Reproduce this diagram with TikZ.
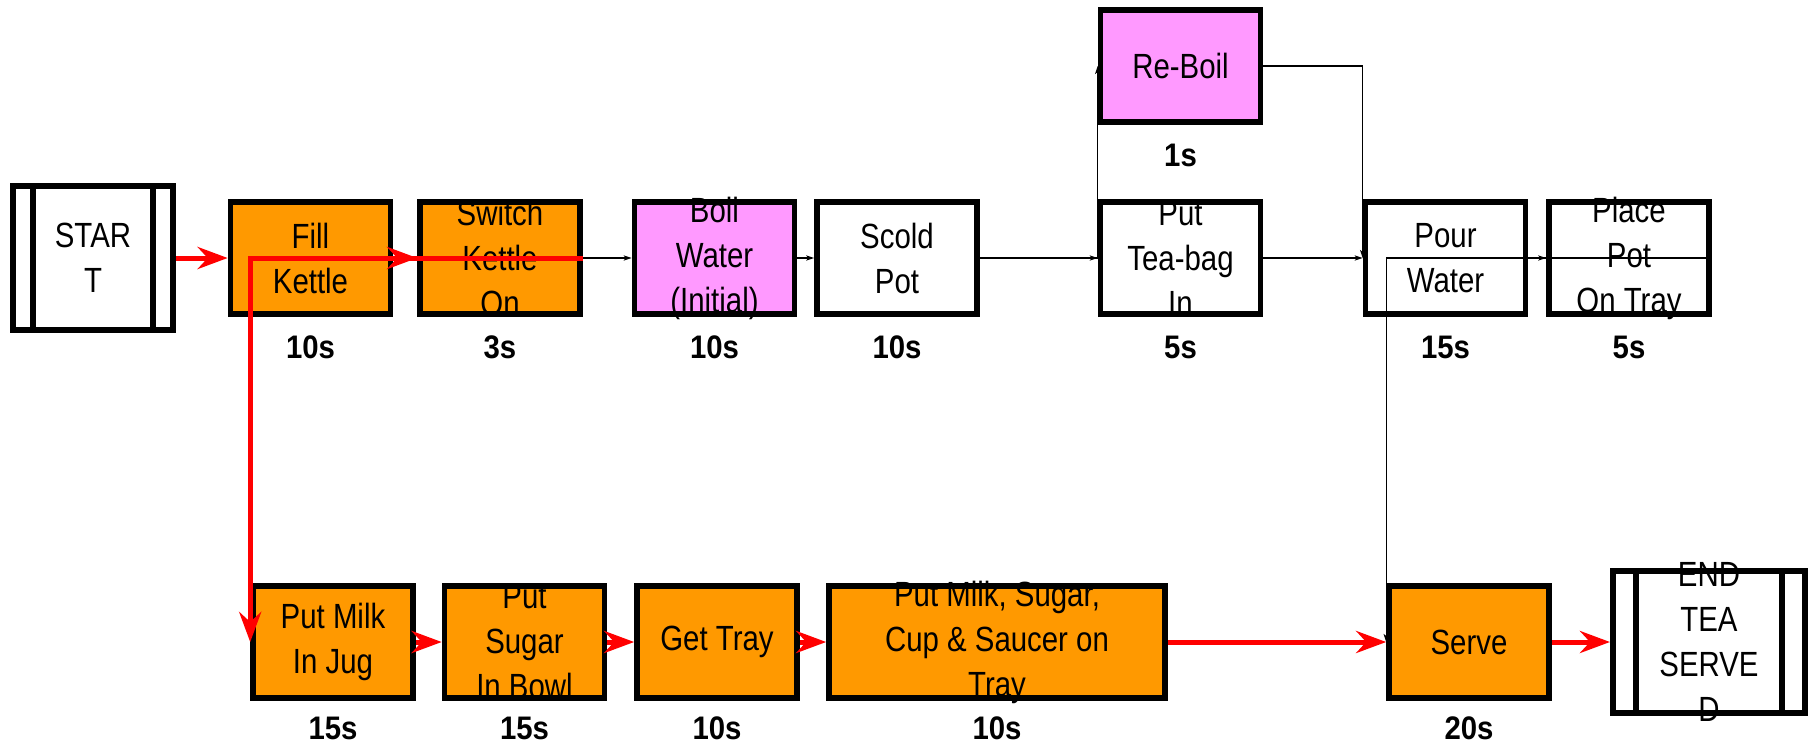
\documentclass[tikz,border=0pt]{standalone}
\usepackage{fontspec}
\setmainfont{Liberation Sans}[FakeStretch=0.84]
\newfontfamily\timefont{Liberation Sans}[FakeStretch=0.9]
\usetikzlibrary{arrows.meta,positioning}
\definecolor{kettle}{HTML}{FF9900}
\definecolor{boil}{HTML}{FF99FF}
\newcommand\boxfont{\fontsize{17.5pt}{22.5pt}\selectfont}
\tikzset{task/.style={fill=#1, line width=2.8pt, outer sep=1.4pt, minimum width=80pt, minimum height=56pt,
  inner xsep=0pt, inner ysep=-30pt, align=center, font=\boxfont}, task/.default=white,
  terminal/.style={fill=white, line width=3pt, outer sep=1.5pt, minimum width=80pt, minimum height=72pt,
  inner xsep=0pt, inner ysep=-40pt, align=center, font=\boxfont,
  path picture={\draw[line width=3pt]
    ([xshift=#1]path picture bounding box.north west) -- ([xshift=#1]path picture bounding box.south west)
    ([xshift=-#1]path picture bounding box.north east) -- ([xshift=-#1]path picture bounding box.south east);}},
  terminal/.default=10pt,
  secs/.style={inner sep=0pt, font=\timefont\bfseries\fontsize{16.3pt}{19pt}\selectfont},
  flow/.style={red, line width=2.5pt, -{Stealth[length=15pt,width=11pt,inset=5pt]}},
  link/.style={black, line width=0.7pt, -{Stealth[length=4pt,width=2.6pt,inset=1pt]}}}

\begin{document}
\begin{tikzpicture}[x=0.5pt, y=-0.5pt]
  \useasboundingbox (0,0) rectangle (1812,745);
  % top row
  \node[terminal] (start) at (93,258) {STAR\\T};
  \node[task=kettle] (fill) at (310.5,258) {Fill\\Kettle};
  \node[task=kettle] (switch) at (500,258) {Switch\\Kettle\\On};
  \node[task=boil] (boil) at (714.5,258) {Boil\\Water\\(Initial)};
  \node[task] (scold) at (897,258) {Scold\\Pot};
  \node[task] (teabag) at (1180.5,258) {Put\\Tea-bag\\In};
  \node[task=boil] (reboil) at (1180.5,66) {Re-Boil};
  \node[task] (pour) at (1445.5,258) {Pour\\Water};
  \node[task] (place) at (1629,258) {Place\\Pot\\On Tray};
  % bottom row
  \node[task=kettle] (milk) at (333,642) {Put Milk\\In Jug};
  \node[task=kettle] (sugar) at (524.5,642) {Put\\Sugar\\In Bowl};
  \node[task=kettle] (tray) at (717,642) {Get Tray};
  \node[task=kettle, minimum width=168pt] (cups) at (997,642) {Put Milk, Sugar,\\Cup \& Saucer on\\Tray};
  \node[task=kettle] (serve) at (1469,642) {Serve};
  \node[terminal=11.5pt, minimum width=96pt, minimum height=71pt] (end) at (1709,642) {END\\TEA\\SERVE\\D};

  % borders over the text
  \foreach \n in {fill,switch,boil,scold,teabag,reboil,pour,place,milk,sugar,tray,cups,serve}
    \draw[line width=2.8pt] ([shift={(1.4pt,-1.4pt)}]\n.north west) rectangle ([shift={(-1.4pt,1.4pt)}]\n.south east);
  \foreach \n in {start,end}
    \draw[line width=3pt] ([shift={(1.5pt,-1.5pt)}]\n.north west) rectangle ([shift={(-1.5pt,1.5pt)}]\n.south east);

  % times
  \node[secs, below=9.5pt of fill] (fill-t) {10s};
  \node[secs, below=9.5pt of switch] (switch-t) {3s};
  \node[secs, below=9.5pt of boil] (boil-t) {10s};
  \node[secs, below=9.5pt of scold] (scold-t) {10s};
  \node[secs, below=9.5pt of teabag] (teabag-t) {5s};
  \node[secs, below=9.5pt of reboil] (reboil-t) {1s};
  \node[secs, below=9.5pt of pour] (pour-t) {15s};
  \node[secs, below=9.5pt of place] (place-t) {5s};
  \node[secs, below=8pt of milk] (milk-t) {15s};
  \node[secs, below=8pt of sugar] (sugar-t) {15s};
  \node[secs, below=8pt of tray] (tray-t) {10s};
  \node[secs, below=8pt of cups] (cups-t) {10s};
  \node[secs, below=8pt of serve] (serve-t) {20s};

  % connectors
  \draw[link] (switch) -- (boil);
  \draw[link] (boil) -- (scold);
  \draw[link] (scold) -- (teabag);
  \draw[link] (scold.east) -| (reboil.west);
  \draw[link] (reboil.east) -| (pour.west);
  \draw[link] (teabag) -- (pour);
  \draw[link] (pour) -- (place);
  \draw[link] (place.east) -| (serve.west);
  \draw[flow] (start) -- (fill);
  \draw[flow] (fill) -- (switch);
  \draw[flow] (switch.east) -| (milk.west);
  \draw[flow] (milk) -- (sugar);
  \draw[flow] (sugar) -- (tray);
  \draw[flow] (tray) -- (cups);
  \draw[flow] (cups) -- (serve);
  \draw[flow] (serve) -- (end);
\end{tikzpicture}
\end{document}
